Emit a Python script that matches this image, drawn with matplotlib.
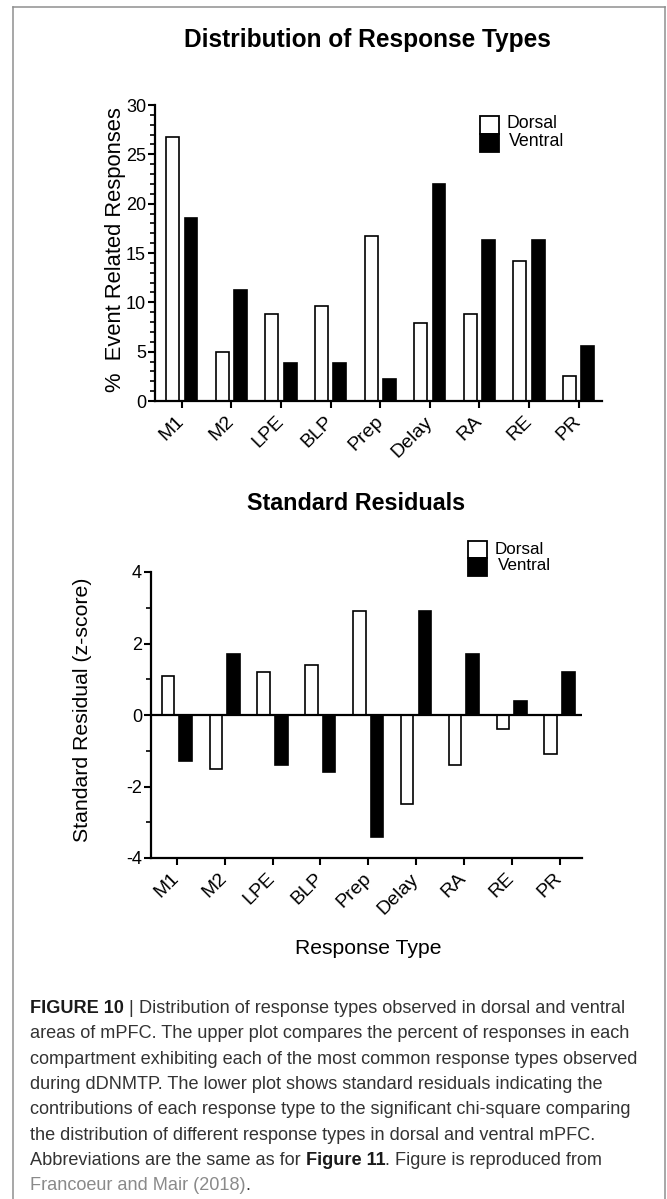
import matplotlib
matplotlib.use('Agg')
import matplotlib.pyplot as plt
from matplotlib import font_manager as fm
from matplotlib.patches import Rectangle
from matplotlib.lines import Line2D
from matplotlib.ticker import MultipleLocator
import numpy as np

# ---------------- data ----------------
categories = ['M1', 'M2', 'LPE', 'BLP', 'Prep', 'Delay', 'RA', 'RE', 'PR']
series_names = ['Dorsal', 'Ventral']
dorsal_pct = [26.8, 5.0, 8.8, 9.6, 16.7, 7.9, 8.8, 14.2, 2.5]
ventral_pct = [18.5, 11.2, 3.9, 3.9, 2.2, 22.0, 16.3, 16.3, 5.6]
dorsal_resid = [1.1, -1.5, 1.2, 1.4, 2.9, -2.5, -1.4, -0.4, -1.1]
ventral_resid = [-1.3, 1.7, -1.4, -1.6, -3.4, 2.9, 1.7, 0.4, 1.2]
pct_ticks = [0, 5, 10, 15, 20, 25, 30]
resid_ticks = [-4, -2, 0, 2, 4]

caption_lines = [
    [("FIGURE 10", 'bold', '#1a1a1a'), (" | ", 'normal', '#333333'),
     ("Distribution of response types observed in dorsal and ventral", 'normal', '#333333')],
    [("areas of mPFC. The upper plot compares the percent of responses in each", 'normal', '#333333')],
    [("compartment exhibiting each of the most common response types observed", 'normal', '#333333')],
    [("during dDNMTP. The lower plot shows standard residuals indicating the", 'normal', '#333333')],
    [("contributions of each response type to the significant chi-square comparing", 'normal', '#333333')],
    [("the distribution of different response types in dorsal and ventral mPFC.", 'normal', '#333333')],
    [("Abbreviations are the same as for ", 'normal', '#333333'), ("Figure 11", 'bold', '#1a1a1a'),
     (". Figure is reproduced from", 'normal', '#333333')],
    [("Francoeur and Mair (2018)", 'normal', '#8a8a8a'), (".", 'normal', '#333333')],
]

# ---------------- setup ----------------
W, H = 667, 1199
fig = plt.figure(figsize=(W / 100, H / 100), dpi=100)
fig.patch.set_facecolor('white')

names = {f.name for f in fm.fontManager.ttflist}
SANS = 'Liberation Sans' if 'Liberation Sans' in names else 'DejaVu Sans'
NARROW = 'Liberation Sans Narrow' if 'Liberation Sans Narrow' in names else SANS
plt.rcParams['font.family'] = [SANS, 'DejaVu Sans']
plt.rcParams['axes.unicode_minus'] = False


def fx(px):
    return px / W


def fy(py):
    return 1 - py / H


renderer = fig.canvas.get_renderer()


def fit_width(t, target):
    w = t.get_window_extent(renderer).width
    t.set_fontsize(t.get_fontsize() * target / w)


# outer frame
for (x0, y0, x1, y1) in [(13, 7, 13, H), (13, 7, 665, 7), (665, 7, 665, H)]:
    fig.add_artist(Line2D([fx(x0), fx(x1)], [fy(y0), fy(y1)], color='#8f8f8f', lw=1.1,
                          transform=fig.transFigure))

ax1 = fig.add_axes([fx(155), fy(401), (602 - 155) / W, (401 - 105) / H])
ax2 = fig.add_axes([fx(151), fy(858), (582 - 151) / W, (858 - 572) / H])

x = np.arange(len(categories))
bw = 0.26
off = 0.185
for ax, d, v in [(ax1, dorsal_pct, ventral_pct), (ax2, dorsal_resid, ventral_resid)]:
    ax.bar(x - off, d, bw, facecolor='white', edgecolor='black', linewidth=1.2, zorder=2)
    ax.bar(x + off, v, bw, facecolor='black', edgecolor='black', linewidth=1.2, zorder=2)
    ax.set_xlim(-0.54, 8.47)
    for s in ['top', 'right']:
        ax.spines[s].set_visible(False)
    for s in ['left', 'bottom']:
        ax.spines[s].set_linewidth(1.6)
    ax.set_xticks(x)
    ax.set_xticklabels(categories, rotation=45, ha='right', va='center',
                       rotation_mode='anchor', fontsize=14)
    ax.tick_params(axis='y', which='major', direction='out', length=5, width=1.5,
                   labelsize=13, pad=1.5)
    ax.tick_params(axis='x', which='major', direction='out', length=5, width=1.5, pad=8)
    ax.tick_params(axis='y', which='minor', direction='out', length=3.5, width=1.2)
    ax.set_facecolor('none')

ax1.set_ylim(0, 30)
ax1.set_yticks(pct_ticks)
ax1.yaxis.set_minor_locator(MultipleLocator(1))

ax2.set_ylim(-4, 4)
ax2.set_yticks(resid_ticks)
ax2.yaxis.set_minor_locator(MultipleLocator(1))
ax2.axhline(0, color='black', lw=1.6, zorder=3)

# titles and labels
t1 = fig.text(fx(367), fy(40), 'Distribution of Response Types', fontsize=16, fontweight='bold',
              ha='center', va='center')
fit_width(t1, 367)
t2 = fig.text(fx(356), fy(503), 'Standard Residuals', fontsize=16, fontweight='bold',
              ha='center', va='center')
fit_width(t2, 218)
t3 = fig.text(fx(368), fy(948), 'Response Type', fontsize=14, ha='center', va='center')
fit_width(t3, 147)

yl1 = fig.text(fx(116), fy(250), '%  Event Related Responses', fontsize=16, rotation=90,
               ha='center', va='center')
yl2 = fig.text(fx(83), fy(710), 'Standard Residual (z-score)', fontsize=16, rotation=90,
               ha='center', va='center')
for t, L in [(yl1, 286), (yl2, 265)]:
    h = t.get_window_extent(renderer).height
    t.set_fontsize(t.get_fontsize() * L / h)


# legends
def draw_legend(x0, y0, x1, y1, td, tv):
    ym = (y0 + y1) / 2
    fig.add_artist(Rectangle((fx(x0), fy(ym)), fx(x1) - fx(x0), fy(y0) - fy(ym),
                             facecolor='white', edgecolor='black', lw=1.3, transform=fig.transFigure))
    fig.add_artist(Rectangle((fx(x0), fy(y1)), fx(x1) - fx(x0), fy(ym) - fy(y1),
                             facecolor='black', edgecolor='black', lw=1.3, transform=fig.transFigure))
    a = fig.text(fx(td[0]), fy(td[1]), series_names[0], fontsize=13, ha='left', va='center')
    fit_width(a, td[2])
    b = fig.text(fx(tv[0]), fy(tv[1]), series_names[1], fontsize=13, ha='left', va='center')
    fit_width(b, tv[2])


draw_legend(480, 116, 499, 152, (507, 124, 51), (509, 141, 55))
draw_legend(468, 541, 487, 576, (495, 550, 49), (498, 566, 53))

# caption
probe = fig.text(0, 0, caption_lines[2][0][0], fontsize=10, family=NARROW)
cap_size = 10 * 611 / probe.get_window_extent(renderer).width
probe.remove()


def text_w(s, weight):
    t = fig.text(0, 0, s, fontsize=cap_size, family=NARROW, fontweight=weight)
    w = t.get_window_extent(renderer).width
    t.remove()
    return w


space_w = text_w('a a', 'normal') - text_w('aa', 'normal')

for i, line in enumerate(caption_lines):
    xp = 30
    yb = 1013 + 25.3 * i
    for s, wgt, col in line:
        lead = len(s) - len(s.lstrip(' '))
        trail = len(s) - len(s.rstrip(' '))
        core = s.strip(' ')
        xp += lead * space_w
        t = fig.text(fx(xp), fy(yb), core, fontsize=cap_size, family=NARROW, fontweight=wgt,
                     color=col, ha='left', va='baseline')
        xp += t.get_window_extent(renderer).width + trail * space_w

fig.savefig('out.png', dpi=100, facecolor='white')
